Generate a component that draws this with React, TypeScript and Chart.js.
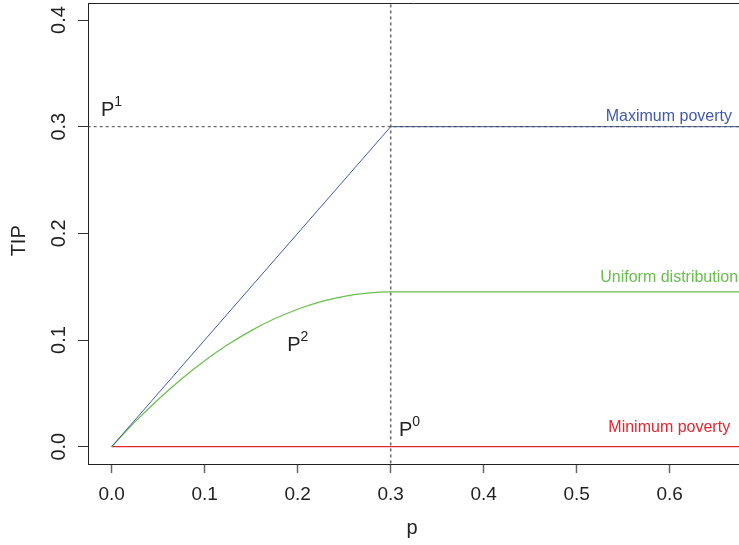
import React, { useEffect, useRef } from "react";
import { Chart, registerables } from "chart.js";

Chart.register(...registerables);

// ---- data ----
const maxPovertyP = [0, 0.3, 0.7];
const maxPovertyTIP = [0, 0.3, 0.3];

const uniformP = [0, 0.025, 0.05, 0.075, 0.1, 0.125, 0.15, 0.175, 0.2, 0.225, 0.25, 0.275, 0.3, 0.7];
const uniformTIP = [0, 0.0232, 0.0443, 0.0635, 0.0806, 0.0957, 0.1088, 0.1199, 0.1289, 0.136, 0.141, 0.144, 0.1451, 0.1451];

const minPovertyP = [0, 0.7];
const minPovertyTIP = [0, 0];

const povertyH = 0.3; // headcount (vertical reference)
const maxTIPLevel = 0.3; // horizontal reference

const xTicks = [0, 0.1, 0.2, 0.3, 0.4, 0.5, 0.6];
const xTickLabels = ["0.0", "0.1", "0.2", "0.3", "0.4", "0.5", "0.6"];
const yTicks = [0, 0.1, 0.2, 0.3, 0.4];
const yTickLabels = ["0.0", "0.1", "0.2", "0.3", "0.4"];

const xTitle = "p";
const yTitle = "TIP";

const seriesLabels = ["Maximum poverty", "Uniform distribution", "Minimum poverty"];

const BLUE = "#3F5AA8";
const GREEN = "#6ABE4E";
const RED = "#E3262F";
const DASH = "#444444";

const toXY = (xs: number[], ys: number[]) => xs.map((x, i) => ({ x, y: ys[i] }));

const FONT = '"Liberation Sans", Arial, sans-serif';

const textPlugin = {
  id: "rText",
  afterDraw(chart: any) {
    const ctx = chart.ctx;
    const xs = chart.scales.x;
    const ys = chart.scales.y;
    const { left, right, top } = chart.chartArea;
    ctx.save();
    // top frame line
    ctx.strokeStyle = "#222";
    ctx.lineWidth = 1;
    ctx.beginPath();
    ctx.moveTo(left, top + 0.5);
    ctx.lineTo(right, top + 0.5);
    ctx.stroke();

    ctx.fillStyle = "#222";
    // x tick labels
    ctx.font = `19px ${FONT}`;
    ctx.textAlign = "center";
    ctx.textBaseline = "alphabetic";
    xTicks.forEach((v, i) => {
      ctx.fillText(xTickLabels[i], xs.getPixelForValue(v), 500);
    });
    // y tick labels (rotated)
    ctx.font = `20px ${FONT}`;
    yTicks.forEach((v, i) => {
      ctx.save();
      ctx.translate(65, ys.getPixelForValue(v));
      ctx.rotate(-Math.PI / 2);
      ctx.fillText(yTickLabels[i], 0, 0);
      ctx.restore();
    });
    // axis titles
    ctx.font = `20px ${FONT}`;
    ctx.fillText(xTitle, xs.getPixelForValue(0.323), 534);
    ctx.save();
    ctx.translate(25, ys.getPixelForValue(0.193));
    ctx.rotate(-Math.PI / 2);
    ctx.fillText(yTitle, 0, 0);
    ctx.restore();

    // P labels with superscripts
    const pLabel = (px: number, py: number, sup: string) => {
      const x = xs.getPixelForValue(px);
      const y = ys.getPixelForValue(py);
      ctx.textAlign = "left";
      ctx.font = `20px ${FONT}`;
      ctx.fillStyle = "#222";
      ctx.fillText("P", x, y);
      const w = ctx.measureText("P").width;
      ctx.font = `14px ${FONT}`;
      ctx.fillText(sup, x + w, y - 10);
    };
    pLabel(-0.0115, 0.31, "1");
    pLabel(0.1888, 0.09, "2");
    pLabel(0.3089, 0.01, "0");

    // series labels
    ctx.font = `16px ${FONT}`;
    ctx.textAlign = "right";
    ctx.fillStyle = BLUE;
    ctx.fillText(seriesLabels[0], xs.getPixelForValue(0.667), ys.getPixelForValue(0.305));
    ctx.fillStyle = GREEN;
    ctx.fillText(seriesLabels[1], xs.getPixelForValue(0.6735), ys.getPixelForValue(0.1541));
    ctx.fillStyle = RED;
    ctx.fillText(seriesLabels[2], xs.getPixelForValue(0.665), ys.getPixelForValue(0.0141));
    ctx.restore();
  },
};

export default function App() {
  const ref = useRef<HTMLCanvasElement | null>(null);
  useEffect(() => {
    if (!ref.current) return;
    const chart = new Chart(ref.current, {
      type: "line",
      data: {
        datasets: [
          {
            label: "h",
            data: [
              { x: -1, y: maxTIPLevel },
              { x: 1, y: maxTIPLevel },
            ],
            borderColor: DASH,
            borderWidth: 1,
            borderDash: [3, 3],
            pointRadius: 0,
          },
          {
            label: "v",
            data: [
              { x: povertyH, y: -1 },
              { x: povertyH, y: 1 },
            ],
            borderColor: "#707070",
            borderWidth: 1.6,
            borderDash: [3, 3],
            pointRadius: 0,
          },
          {
            label: seriesLabels[0],
            data: toXY(maxPovertyP, maxPovertyTIP),
            borderColor: BLUE,
            borderWidth: 1,
            pointRadius: 0,
          },
          {
            label: seriesLabels[1],
            data: toXY(uniformP, uniformTIP),
            borderColor: GREEN,
            borderWidth: 1.2,
            pointRadius: 0,
            cubicInterpolationMode: "monotone",
          },
          {
            label: seriesLabels[2],
            data: toXY(minPovertyP, minPovertyTIP),
            borderColor: RED,
            borderWidth: 1.2,
            pointRadius: 0,
          },
        ],
      },
      options: {
        responsive: false,
        animation: false,
        layout: { padding: { top: 3, right: 0, left: 0, bottom: 0 } },
        plugins: { legend: { display: false }, tooltip: { enabled: false } },
        scales: {
          x: {
            type: "linear",
            min: -0.02548,
            max: 0.67452,
            afterBuildTicks: (s: any) => {
              s.ticks = xTicks.map((v) => ({ value: v }));
            },
            afterFit: (s: any) => {
              s.height = 81;
            },
            grid: {
              drawOnChartArea: false,
              drawTicks: true,
              tickLength: 9,
              tickColor: "#666",
              tickWidth: 1.5,
            },
            border: { display: true, color: "#222", width: 1 },
            ticks: { display: false },
          },
          y: {
            type: "linear",
            min: -0.01622,
            max: 0.41594,
            afterBuildTicks: (s: any) => {
              s.ticks = yTicks.map((v) => ({ value: v }));
            },
            afterFit: (s: any) => {
              s.width = 88;
            },
            grid: {
              drawOnChartArea: false,
              drawTicks: true,
              tickLength: 10,
              tickColor: "#333",
              tickWidth: 1,
            },
            border: { display: true, color: "#222", width: 1 },
            ticks: { display: false },
          },
        },
      },
      plugins: [textPlugin],
    } as any);
    return () => chart.destroy();
  }, []);
  return (
    <div style={{ position: "absolute", left: 0, top: 0, width: 739, height: 545, background: "#fff" }}>
      <canvas ref={ref} width={739} height={545} style={{ display: "block" }} />
    </div>
  );
}
